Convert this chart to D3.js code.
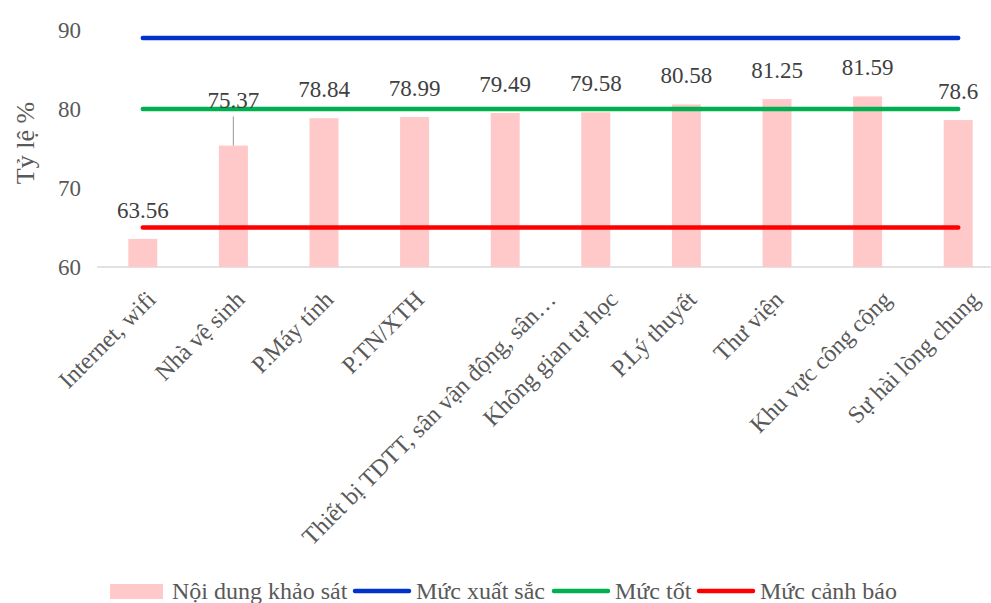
<!DOCTYPE html>
<html lang="vi">
<head>
<meta charset="UTF-8">
<title>Tỷ lệ hài lòng</title>
<script src="https://d3js.org/d3.v7.min.js"></script>
<style>
  body { margin: 0; background: #fff; }
  svg { display: block; font-family: "Liberation Serif", "Times New Roman", serif; }
</style>
</head>
<body>
<div id="chart"></div>
<script>
const categories = ["Internet, wifi", "Nhà vệ sinh", "P.Máy tính", "P.TN/XTH",
  "Thiết bị TDTT, sân vận động, sân…", "Không gian tự học", "P.Lý thuyết",
  "Thư viện", "Khu vực công cộng", "Sự hài lòng chung"];
const surveyValues = [63.56, 75.37, 78.84, 78.99, 79.49, 79.58, 80.58, 81.25, 81.59, 78.6];
const excellentLevel = [89, 89, 89, 89, 89, 89, 89, 89, 89, 89];
const goodLevel = [80, 80, 80, 80, 80, 80, 80, 80, 80, 80];
const warningLevel = [65, 65, 65, 65, 65, 65, 65, 65, 65, 65];
const yTicks = [60, 70, 80, 90];
const legendNames = ["Nội dung khảo sát", "Mức xuất sắc", "Mức tốt", "Mức cảnh báo"];

const width = 991, height = 603;
const textColor = "#595959";

const svg = d3.select("#chart").append("svg")
  .attr("width", width).attr("height", height);

const x = d3.scaleBand().domain(categories).range([97.5, 1003.5]);
const y = d3.scaleLinear().domain([60, 90]).range([267, 30]);
const cx = d => x(d) + x.bandwidth() / 2;
const barW = 29;

// y tick labels
svg.append("g").selectAll("text").data(yTicks).join("text")
  .attr("x", 81).attr("y", d => y(d)).attr("dy", "0.35em")
  .attr("text-anchor", "end").attr("font-size", 23).attr("fill", textColor)
  .text(d => d);

// baseline
svg.append("line").attr("x1", 97).attr("x2", width)
  .attr("y1", y(60)).attr("y2", y(60))
  .attr("stroke", "#d9d9d9").attr("stroke-width", 1.5);

// bars
svg.append("g").selectAll("rect").data(surveyValues).join("rect")
  .attr("x", (d, i) => cx(categories[i]) - barW / 2)
  .attr("width", barW)
  .attr("y", d => y(d))
  .attr("height", d => y(60) - y(d))
  .attr("fill", "#ffc9c9");

// level lines
const line = d3.line().x((d, i) => cx(categories[i])).y(d => y(d));
const series = [
  { values: excellentLevel, color: "#0033cc" },
  { values: goodLevel, color: "#00b050" },
  { values: warningLevel, color: "#ff0000" }
];
svg.append("g").selectAll("path").data(series).join("path")
  .attr("d", d => line(d.values))
  .attr("fill", "none").attr("stroke", d => d.color)
  .attr("stroke-width", 4.5).attr("stroke-linecap", "round");

// data labels (the second one is lifted with a leader line)
const lift = { 1: 17 };
const labels = svg.append("g");
surveyValues.forEach((v, i) => {
  const px = cx(categories[i]);
  const extra = lift[i] || 0;
  if (extra) {
    labels.append("line").attr("x1", px).attr("x2", px)
      .attr("y1", y(v) - extra - 12).attr("y2", y(v))
      .attr("stroke", "#a6a6a6").attr("stroke-width", 1.2);
  }
  labels.append("text").attr("x", px).attr("y", y(v) - 21 - extra)
    .attr("text-anchor", "middle").attr("font-size", 23).attr("fill", "#404040")
    .text(v);
});

// category labels rotated -45
const catG = svg.append("g");
categories.forEach(c => {
  const t = catG.append("text")
    .attr("text-anchor", "end").attr("font-size", 24).attr("fill", textColor)
    .text(c);
  const L = t.node().getComputedTextLength();
  t.attr("transform", `translate(${cx(c) + 0.17 * L - 7},${301}) rotate(-45)`);
});

// y title
svg.append("text")
  .attr("transform", "translate(34,143) rotate(-90)")
  .attr("text-anchor", "middle").attr("font-size", 26).attr("fill", textColor)
  .text("Tỷ lệ %");

// legend
const legend = svg.append("g").attr("transform", "translate(0,591)");
const legendX = [110, 353, 552, 697];
legendNames.forEach((name, i) => {
  const g = legend.append("g").attr("transform", `translate(${legendX[i]},0)`);
  if (i === 0) {
    g.append("rect").attr("x", 0).attr("y", -7).attr("width", 53).attr("height", 15)
      .attr("fill", "#ffc9c9");
  } else {
    g.append("line").attr("x1", 2).attr("x2", 56).attr("y1", 0).attr("y2", 0)
      .attr("stroke", series[i - 1].color).attr("stroke-width", 4.5)
      .attr("stroke-linecap", "round");
  }
  g.append("text").attr("x", i === 0 ? 62 : 63).attr("y", 0).attr("dy", "0.35em")
    .attr("font-size", 24).attr("fill", textColor).text(name);
});
</script>
</body>
</html>
